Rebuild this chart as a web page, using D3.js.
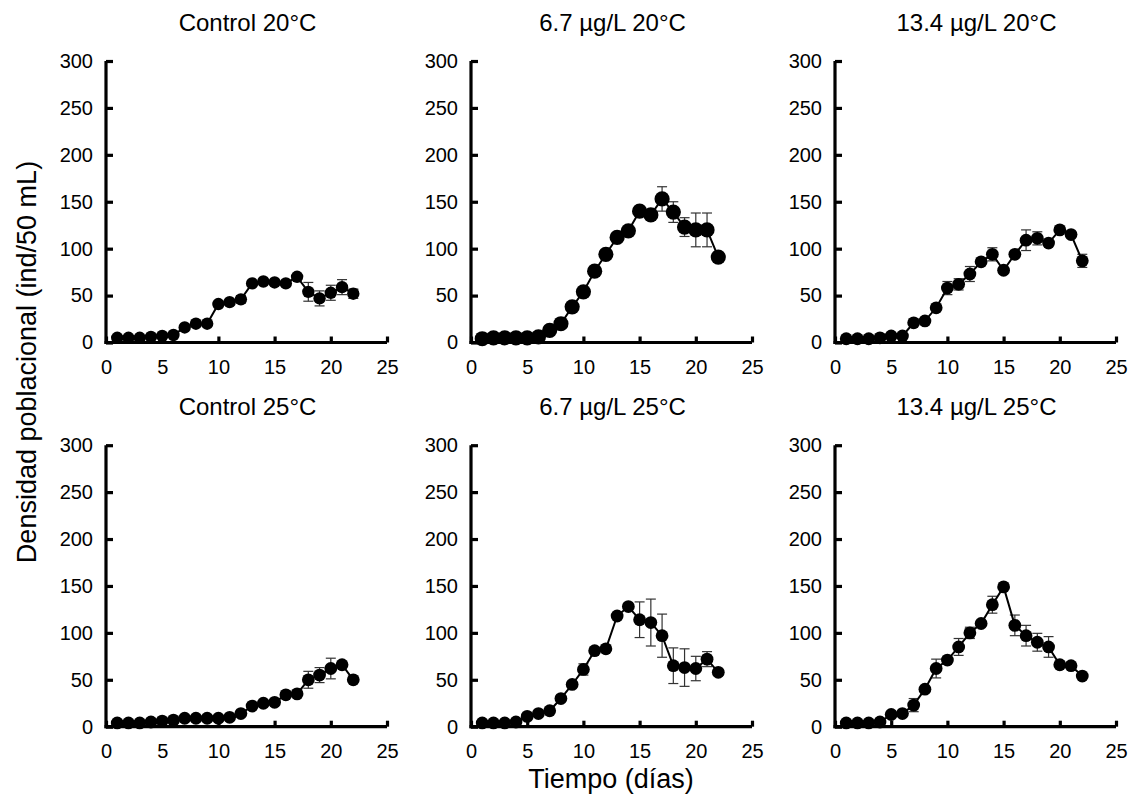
<!DOCTYPE html>
<html>
<head>
<meta charset="utf-8">
<script src="https://cdn.jsdelivr.net/npm/d3@7"></script>
<style>
  html, body { margin: 0; padding: 0; background: #fff; }
  svg { display: block; }
  text { font-family: "Liberation Sans", Arial, sans-serif; fill: #000; }
</style>
</head>
<body>
<svg id="chart" width="1133" height="798"></svg>
<script>
const days = [1,2,3,4,5,6,7,8,9,10,11,12,13,14,15,16,17,18,19,20,21,22];
const xTicks = [0,5,10,15,20,25];
const yTicks = [0,50,100,150,200,250,300];
const titles = ["Control 20°C","6.7 µg/L 20°C","13.4 µg/L 20°C","Control 25°C","6.7 µg/L 25°C","13.4 µg/L 25°C"];

const control20     = [5,5,5,6,7,8,16,20,20,41,43,46,63,65,64,63,70,54,47,53,59,52];
const control20Err  = [0,0,0,0,0,0,2,2,2,3,3,4,2,2,2,2,2,10,8,8,8,5];
const dose67_20     = [4,5,5,5,5,6,13,20,38,54,76,94,112,119,140,136,153,139,123,120,120,91];
const dose67_20Err  = [0,0,0,0,0,0,1,2,2,2,3,3,2,2,2,2,13,11,10,18,18,5];
const dose134_20    = [4,4,4,5,7,7,21,23,37,58,62,73,86,94,77,94,109,111,106,120,115,87];
const dose134_20Err = [0,0,0,0,0,0,2,2,3,7,6,8,3,7,2,2,11,7,3,2,2,7];
const control25     = [4,4,4,5,6,7,9,9,9,9,10,14,22,25,26,34,35,50,55,62,66,50];
const control25Err  = [0,0,0,0,0,0,0,0,0,0,0,0,2,2,2,2,2,9,8,11,3,2];
const dose67_25     = [4,4,4,5,11,14,17,30,45,61,81,83,118,128,114,111,97,65,63,62,72,58];
const dose67_25Err  = [0,0,0,0,0,0,0,2,3,6,3,3,2,2,19,25,23,19,20,13,8,3];
const dose134_25    = [4,4,4,5,13,14,23,40,62,71,85,100,110,130,149,108,97,90,85,66,65,54];
const dose134_25Err = [0,0,0,0,0,0,7,3,10,3,9,6,3,9,0,11,11,9.5,11,2,2,2];

const seriesValues = [control20, dose67_20, dose134_20, control25, dose67_25, dose134_25];
const seriesErrors = [control20Err, dose67_20Err, dose134_20Err, control25Err, dose67_25Err, dose134_25Err];

const colLeft = [106, 471, 835];
const panelW = 281;
const rowBottom = [342.5, 726.7];
const panelH = 281.5;
const radii = [6.2, 7.6, 6.4, 6.4, 6.4, 6.4];

const svg = d3.select("#chart");

seriesValues.forEach((vals, i) => {
  const col = i % 3, row = Math.floor(i / 3);
  const x0 = colLeft[col], y0 = rowBottom[row];
  const x = d3.scaleLinear().domain([0, 25]).range([x0, x0 + panelW]);
  const y = d3.scaleLinear().domain([0, 300]).range([y0, y0 - panelH]);
  const g = svg.append("g");

  // title
  g.append("text").attr("x", x0 + panelW / 2 + 1).attr("y", y0 - 312)
    .attr("text-anchor", "middle").attr("font-size", 24).text(titles[i]);

  // y axis
  const ya = g.append("g").attr("transform", `translate(${x0},0)`)
    .call(d3.axisLeft(y).tickValues(yTicks).tickSize(-7).tickPadding(13));
  ya.select(".domain").attr("stroke-width", 3.2).attr("d", `M0,${y(300)}V${y(0)+1.5}`);
  ya.selectAll(".tick line").attr("stroke-width", 3.2);
  ya.selectAll(".tick text").attr("font-size", 20).attr("font-family", "Liberation Sans, Arial, sans-serif").attr("fill", "#000");

  // x axis
  const xa = g.append("g").attr("transform", `translate(0,${y0})`)
    .call(d3.axisBottom(x).tickValues(xTicks).tickSize(-6).tickPadding(17));
  xa.select(".domain").attr("stroke-width", 3.2).attr("d", `M${x(0)-1.5},0H${x(25)}`);
  xa.selectAll(".tick line").attr("stroke-width", 3.2);
  xa.selectAll(".tick text").attr("font-size", 20).attr("font-family", "Liberation Sans, Arial, sans-serif").attr("fill", "#000");

  const errs = seriesErrors[i];
  const pts = days.map((d, k) => ({d, v: vals[k], e: errs[k]}));

  // error bars
  const eb = g.append("g").attr("stroke", "#333").attr("stroke-width", 1.2).attr("fill", "none");
  pts.filter(p => p.e > 0).forEach(p => {
    eb.append("line").attr("x1", x(p.d)).attr("x2", x(p.d)).attr("y1", y(p.v - p.e)).attr("y2", y(p.v + p.e));
    eb.append("line").attr("x1", x(p.d) - 5).attr("x2", x(p.d) + 5).attr("y1", y(p.v - p.e)).attr("y2", y(p.v - p.e));
    eb.append("line").attr("x1", x(p.d) - 5).attr("x2", x(p.d) + 5).attr("y1", y(p.v + p.e)).attr("y2", y(p.v + p.e));
  });

  // line
  g.append("path").datum(pts)
    .attr("fill", "none").attr("stroke", "#000").attr("stroke-width", 2)
    .attr("d", d3.line().x(p => x(p.d)).y(p => y(p.v)));

  // markers
  g.selectAll("circle.pt").data(pts).enter().append("circle")
    .attr("class", "pt").attr("cx", p => x(p.d)).attr("cy", p => y(p.v))
    .attr("r", radii[i]).attr("fill", "#000");
});

// axis labels
svg.append("text").attr("transform", "translate(36,362) rotate(-90)")
  .attr("text-anchor", "middle").attr("font-size", 27).text("Densidad poblacional (ind/50 mL)");
svg.append("text").attr("x", 611).attr("y", 788)
  .attr("text-anchor", "middle").attr("font-size", 27).text("Tiempo (días)");
</script>
</body>
</html>
